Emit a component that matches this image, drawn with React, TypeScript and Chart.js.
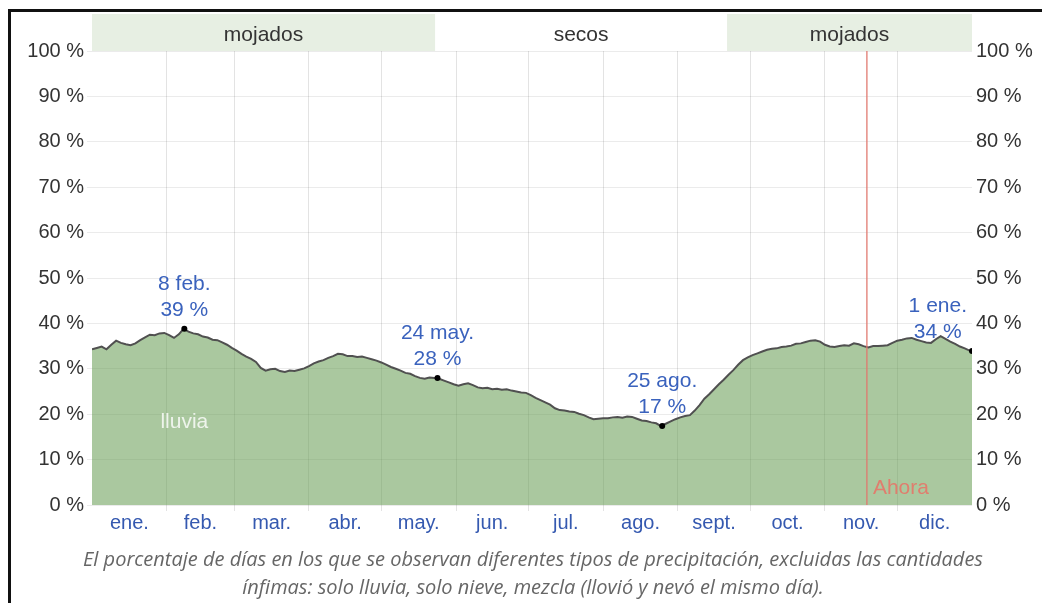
import React, { useEffect, useRef } from "react";
import { Chart, registerables } from "chart.js";

Chart.register(...registerables);

const monthLabels = ["ene.", "feb.", "mar.", "abr.", "may.", "jun.", "jul.", "ago.", "sept.", "oct.", "nov.", "dic."];
const monthStartDays = [0, 31, 59, 90, 120, 151, 181, 212, 243, 273, 304, 334];
const yearDays = 365;

// daily percentage of rainy days, read every 2 days (last point = 31 dic.)
const rainPct = [
  34.3, 34.6, 34.9, 34.3, 35.3, 36.2, 35.7, 35.4, 35.2, 35.6,
  36.3, 36.9, 37.5, 37.4, 37.8, 37.9, 37.4, 36.8, 37.6, 38.8,
  38.2, 37.8, 37.6, 37.1, 36.9, 36.4, 36.3, 35.8, 35.3, 34.6,
  34.0, 33.3, 32.7, 32.2, 31.5, 30.2, 29.6, 29.9, 30.0, 29.5,
  29.3, 29.6, 29.5, 29.8, 30.1, 30.6, 31.2, 31.6, 31.9, 32.4,
  32.8, 33.3, 33.2, 32.8, 32.8, 32.6, 32.7, 32.4, 32.1, 31.8,
  31.4, 30.9, 30.4, 30.0, 29.6, 29.1, 28.9, 28.4, 28.0, 27.8,
  28.1, 28.0, 27.8, 27.4, 27.0, 26.6, 26.3, 26.6, 26.8, 26.4,
  25.9, 25.7, 25.8, 25.5, 25.6, 25.4, 25.5, 25.2, 25.0, 24.8,
  24.7, 24.2, 23.6, 23.1, 22.6, 22.1, 21.3, 20.9, 20.8, 20.6,
  20.5, 20.1, 19.8, 19.3, 18.9, 19.0, 19.1, 19.1, 19.3, 19.4,
  19.2, 19.5, 19.4, 19.0, 18.6, 18.5, 18.2, 18.0, 17.4, 17.9,
  18.4, 18.9, 19.3, 19.6, 19.8, 20.8, 22.0, 23.4, 24.4, 25.5,
  26.6, 27.6, 28.7, 29.7, 30.9, 31.9, 32.5, 33.0, 33.4, 33.8,
  34.2, 34.4, 34.5, 34.8, 34.9, 35.1, 35.5, 35.6, 35.9, 36.2,
  36.3, 36.0, 35.3, 34.9, 34.8, 35.0, 35.2, 35.1, 35.6, 35.4,
  35.0, 34.7, 35.0, 35.0, 35.1, 35.2, 35.7, 36.2, 36.4, 36.7,
  36.8, 36.4, 36.1, 35.8, 35.7, 36.5, 37.2, 36.6, 36.0, 35.5,
  34.9, 34.5, 34.0, 33.9,
];
const dayOfYear = rainPct.map((_, i) => Math.min(i * 2, yearDays));

const markerDays = [38.3, 143.3, 236.5, 365];
const markerPct = [38.8, 28.0, 17.4, 33.9];
const markerDates = ["8 feb.", "24 may.", "25 ago.", "1 ene."];

const seasonStarts = [0, 142.3, 263.4];
const seasonEnds = [142.3, 263.4, 365];
const seasonLabels = ["mojados", "secos", "mojados"];
const seasonWet = [true, false, true];

const nowDay = 321.4;
const yTicks = [0, 10, 20, 30, 40, 50, 60, 70, 80, 90, 100];

const AXIS_FONT = "'Liberation Sans', Arial, sans-serif";

const overlayPlugin = {
  id: "overlay",
  beforeDraw(chart: any) {
    const { ctx, chartArea, scales } = chart;
    const xs = scales.x;
    ctx.save();
    for (let i = 0; i < seasonLabels.length; i++) {
      const x1 = xs.getPixelForValue(seasonStarts[i]);
      const x2 = xs.getPixelForValue(seasonEnds[i]);
      if (seasonWet[i]) {
        ctx.fillStyle = "#e7efe3";
        ctx.fillRect(x1, chartArea.top - 37, x2 - x1, 37);
      }
      ctx.fillStyle = "#333";
      ctx.font = `21px ${AXIS_FONT}`;
      ctx.textAlign = "center";
      ctx.textBaseline = "middle";
      ctx.fillText(seasonLabels[i], (x1 + x2) / 2, chartArea.top - 16);
    }
    ctx.restore();
  },
  afterDatasetsDraw(chart: any) {
    const { ctx, chartArea, scales } = chart;
    const xs = scales.x;
    const ys = scales.y;
    ctx.save();
    ctx.font = `21px ${AXIS_FONT}`;
    ctx.textAlign = "center";
    ctx.textBaseline = "middle";
    for (let i = 0; i < markerDays.length; i++) {
      const px = xs.getPixelForValue(markerDays[i]);
      const py = ys.getPixelForValue(markerPct[i]);
      const l1 = markerDates[i];
      const l2 = `${Math.round(markerPct[i])} %`;
      const w = Math.max(ctx.measureText(l1).width, ctx.measureText(l2).width);
      let cx = px;
      if (cx + w / 2 > chartArea.right - 5) cx = chartArea.right - 5 - w / 2;
      ctx.fillStyle = "#3a62bd";
      ctx.fillText(l1, cx, py - 45);
      ctx.fillText(l2, cx, py - 19);
    }
    // series label
    ctx.fillStyle = "rgba(255,255,255,0.8)";
    ctx.fillText("lluvia", xs.getPixelForValue(markerDays[0]), ys.getPixelForValue(markerPct[0] * 0.47));
    // now label
    ctx.fillStyle = "#e07e6e";
    ctx.textAlign = "left";
    ctx.fillText("Ahora", xs.getPixelForValue(nowDay) + 6, chartArea.bottom - 17);
    ctx.restore();
  },
};

export default function App() {
  const canvasRef = useRef<HTMLCanvasElement | null>(null);

  useEffect(() => {
    if (!canvasRef.current) return;
    const chart = new Chart(canvasRef.current, {
      type: "line",
      data: {
        datasets: [
          {
            label: "lluvia",
            data: dayOfYear.map((d, i) => ({ x: d, y: rainPct[i] })),
            borderColor: "#505050",
            borderWidth: 2,
            backgroundColor: "rgba(100,155,80,0.55)",
            fill: "origin",
            pointRadius: 0,
            tension: 0,
            order: 2,
          },
          {
            label: "marcas",
            data: markerDays.map((d, i) => ({ x: d, y: markerPct[i] })),
            showLine: false,
            pointRadius: 3,
            pointBackgroundColor: "#000",
            pointBorderWidth: 0,
            order: 1,
          },
          {
            label: "ahora",
            data: [
              { x: nowDay, y: 0 },
              { x: nowDay, y: 100 },
            ],
            borderColor: "rgba(225,120,110,0.85)",
            borderWidth: 1.5,
            pointRadius: 0,
            fill: false,
            order: 0,
          },
        ],
      },
      options: {
        animation: false,
        responsive: true,
        maintainAspectRatio: false,
        events: [],
        layout: { padding: { top: 51, left: 0, right: 0, bottom: 62 } },
        plugins: { legend: { display: false }, tooltip: { enabled: false } },
        scales: {
          x: {
            type: "linear",
            position: "bottom",
            min: 0,
            max: yearDays,
            weight: 0,
            z: 1,
            afterBuildTicks: (axis: any) => {
              axis.ticks = monthStartDays.slice(1).map((v) => ({ value: v }));
            },
            afterFit: (s: any) => {
              s.height = 6;
            },
            ticks: { display: false },
            grid: { color: "rgba(0,0,0,0.11)", tickLength: 6, drawTicks: true },
            border: { display: false },
          },
          xm: {
            type: "linear",
            position: "bottom",
            min: 0,
            max: yearDays,
            weight: 1,
            afterBuildTicks: (axis: any) => {
              axis.ticks = monthStartDays.map((v, i) => ({
                value: (v + (i + 1 < monthStartDays.length ? monthStartDays[i + 1] : yearDays)) / 2,
              }));
            },
            afterFit: (s: any) => {
              s.height = 30;
            },
            ticks: {
              autoSkip: false,
              maxRotation: 0,
              padding: 0,
              color: "#3559b0",
              font: { size: 20, family: AXIS_FONT },
              callback: (_v: any, i: number) => monthLabels[i],
            },
            grid: { display: false, drawTicks: false },
            border: { display: false },
          },
          y: {
            position: "left",
            min: 0,
            max: 100,
            z: 1,
            afterBuildTicks: (axis: any) => {
              axis.ticks = yTicks.map((v) => ({ value: v }));
            },
            afterFit: (s: any) => {
              s.width = 92;
            },
            ticks: {
              padding: 3,
              color: "#333",
              font: { size: 20, family: AXIS_FONT },
              callback: (v: any) => `${v} %`,
            },
            grid: { color: "rgba(0,0,0,0.08)", tickLength: 5, drawTicks: true },
            border: { display: false },
          },
          y2: {
            position: "right",
            min: 0,
            max: 100,
            afterBuildTicks: (axis: any) => {
              axis.ticks = yTicks.map((v) => ({ value: v }));
            },
            afterFit: (s: any) => {
              s.width = 70;
            },
            ticks: {
              padding: 4,
              color: "#333",
              font: { size: 20, family: AXIS_FONT },
              callback: (v: any) => `${v} %`,
            },
            grid: { display: false, drawTicks: false },
            border: { display: false },
          },
        },
      },
      plugins: [overlayPlugin],
    } as any);
    return () => chart.destroy();
  }, []);

  return (
    <div style={{ position: "fixed", left: 0, top: 0, width: 1042, height: 603, background: "#fff", overflow: "hidden" }}>
      <div
        style={{
          position: "absolute",
          left: 8,
          top: 9,
          width: 1040,
          height: 600,
          borderTop: "3px solid #111",
          borderLeft: "3px solid #111",
          boxSizing: "border-box",
        }}
      />
      <div style={{ position: "absolute", left: 0, top: 0, width: 1042, height: 603 }}>
        <canvas ref={canvasRef} />
      </div>
      <div
        style={{
          position: "absolute",
          left: 33,
          top: 545,
          width: 1000,
          textAlign: "center",
          fontFamily: "'Open Sans', sans-serif",
          fontStyle: "italic",
          fontSize: 20,
          lineHeight: "28px",
          color: "#666",
          whiteSpace: "nowrap",
        }}
      >
        El porcentaje de días en los que se observan diferentes tipos de precipitación, excluidas las cantidades
        <br />
        ínfimas: solo lluvia, solo nieve, mezcla (llovió y nevó el mismo día).
      </div>
    </div>
  );
}
